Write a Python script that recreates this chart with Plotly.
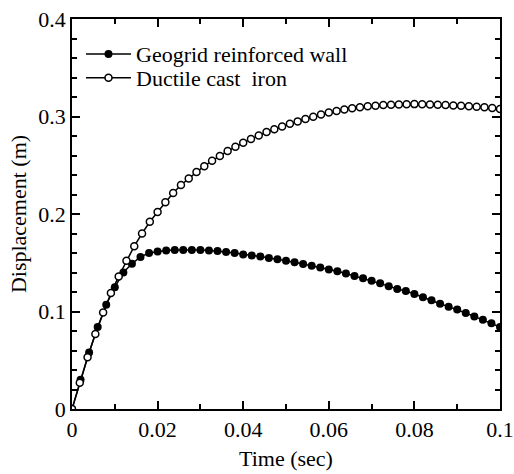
import plotly.graph_objects as go

# Geogrid reinforced wall (filled markers), time step 0.002 s
geo_t = [round(j * 0.002, 4) for j in range(51)]
geo_d = [0.0, 0.030, 0.058, 0.084, 0.107, 0.125, 0.140, 0.149, 0.156, 0.160,
         0.1615, 0.1625, 0.163, 0.1632, 0.1632, 0.163, 0.1625, 0.162, 0.161, 0.160,
         0.1585, 0.1575, 0.1563, 0.155, 0.1536, 0.1521, 0.1505, 0.1488, 0.147, 0.1452,
         0.1432, 0.1412, 0.139, 0.1364, 0.134, 0.1316, 0.129, 0.126, 0.123, 0.121,
         0.118, 0.1145, 0.1115, 0.108, 0.105, 0.102, 0.0985, 0.095, 0.0915, 0.088,
         0.084]

# Ductile cast iron (open markers), 56 samples over 0..0.1 s
duc_t = [i * 0.1 / 55 for i in range(56)]
duc_d = [0.0, 0.027, 0.053, 0.077, 0.099, 0.119, 0.136, 0.152, 0.167, 0.180,
         0.192, 0.202, 0.212, 0.2215, 0.2297, 0.2365, 0.243, 0.249, 0.2545, 0.2595,
         0.2645, 0.269, 0.273, 0.277, 0.2805, 0.284, 0.287, 0.2898, 0.2925, 0.295,
         0.2975, 0.2998, 0.302, 0.304, 0.3057, 0.3072, 0.3085, 0.3095, 0.3104, 0.3111,
         0.3117, 0.3121, 0.3124, 0.3126, 0.3127, 0.3126, 0.3124, 0.3121, 0.3118, 0.3114,
         0.311, 0.3105, 0.31, 0.3094, 0.3087, 0.3078]

x_tickvals = [0, 0.02, 0.04, 0.06, 0.08, 0.1]
x_ticktext = ["0", "0.02", "0.04", "0.06", "0.08", "0.1"]
y_tickvals = [0, 0.1, 0.2, 0.3, 0.4]
y_ticktext = ["0", "0.1", "0.2", "0.3", "0.4"]

FONT = "Liberation Serif"

fig = go.Figure()
fig.add_trace(go.Scatter(
    x=geo_t, y=geo_d, mode="lines+markers", name="Geogrid reinforced wall",
    line=dict(color="black", width=1.5),
    marker=dict(symbol="circle", size=8, color="black"),
    legend="legend",
))
fig.add_trace(go.Scatter(
    x=duc_t, y=duc_d, mode="lines+markers", name="Ductile cast  iron",
    line=dict(color="black", width=1.5),
    marker=dict(symbol="circle", size=7, color="white",
                line=dict(color="black", width=1.5)),
    legend="legend2",
))

axis_common = dict(
    showline=True, linecolor="black", linewidth=1.5, mirror="ticks",
    ticks="inside", ticklen=8, tickwidth=1.5, tickcolor="black",
    showgrid=False, zeroline=False, ticklabeloverflow="allow",
    tickfont=dict(family=FONT, size=22, color="black"),
)

fig.update_xaxes(
    range=[0, 0.1], tickvals=x_tickvals, ticktext=x_ticktext,
    minor=dict(ticks="inside", ticklen=5, tickwidth=1.5, tickcolor="black", dtick=0.01, tick0=0),
    title=dict(text="Time (sec)", font=dict(family=FONT, size=22, color="black"), standoff=9),
    **axis_common,
)
fig.update_yaxes(
    range=[0, 0.4], tickvals=y_tickvals, ticktext=y_ticktext,
    minor=dict(ticks="inside", ticklen=5, tickwidth=1.5, tickcolor="black", dtick=0.02, tick0=0),
    title=dict(text="Displacement (m)", font=dict(family=FONT, size=22, color="black"), standoff=6),
    **axis_common,
)

legend_common = dict(xanchor="left", yanchor="middle", bgcolor="rgba(0,0,0,0)",
                     itemwidth=45, font=dict(family=FONT, size=22, color="black"))

fig.update_layout(
    template="none",
    width=514, height=474,
    margin=dict(l=72, r=14, t=19, b=65, autoexpand=False),
    paper_bgcolor="white", plot_bgcolor="white",
    font=dict(family=FONT, size=22, color="black"),
    showlegend=True,
    legend=dict(x=0.021, y=0.91, **legend_common),
    legend2=dict(x=0.021, y=0.849, **legend_common),
)

fig.write_html("out.html")
